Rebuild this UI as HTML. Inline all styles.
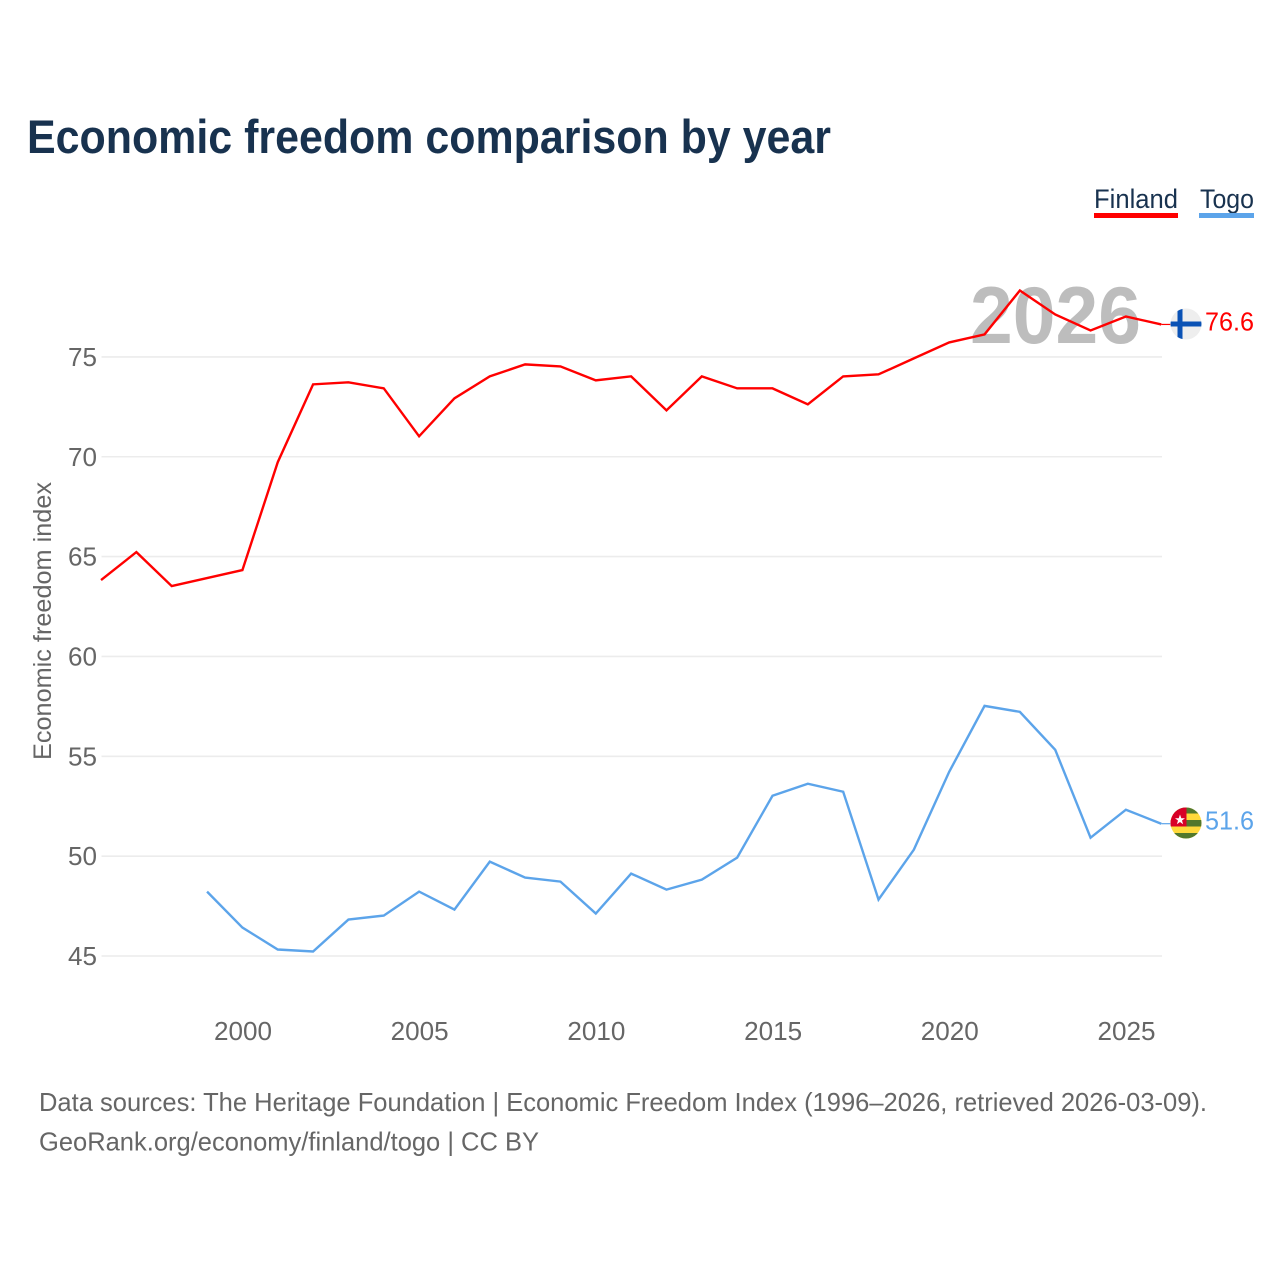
<!DOCTYPE html>
<html lang="en">
<head>
<meta charset="utf-8">
<title>Economic freedom comparison by year</title>
<style>
html,body{margin:0;padding:0;background:#fff;width:1280px;height:1280px;overflow:hidden}
svg{display:block}
text{font-family:"Liberation Sans",Arial,sans-serif}
</style>
</head>
<body>
<svg id="chart" xmlns="http://www.w3.org/2000/svg" width="1280" height="1280" viewBox="0 0 1280 1280">
  <defs>
    <clipPath id="flag-clip-fi"><circle cx="1186" cy="324" r="15.5"/></clipPath>
    <clipPath id="flag-clip-tg"><circle cx="1186" cy="823" r="15.5"/></clipPath>
  </defs>
  <rect width="1280" height="1280" fill="#fff"/>
  <text x="27" y="153" font-size="47" font-weight="700" fill="#18324f" textLength="804" lengthAdjust="spacingAndGlyphs">Economic freedom comparison by year</text>

  <g>
    <text x="1094" y="208" font-size="27" fill="#18324f" textLength="84" lengthAdjust="spacingAndGlyphs">Finland</text>
    <rect x="1094" y="213" width="84" height="5" fill="#ff0000"/>
  </g>
  <g>
    <text x="1200" y="208" font-size="27" fill="#18324f" textLength="54" lengthAdjust="spacingAndGlyphs">Togo</text>
    <rect x="1199" y="213" width="55" height="5" fill="#5ca4ea"/>
  </g>

  <text x="970" y="343" font-size="81" font-weight="700" fill="#bdbdbd" textLength="171" lengthAdjust="spacingAndGlyphs">2026</text>

  <g id="grid"></g>
  <g id="y-axis"></g>
  <g id="x-axis"></g>
  <text transform="translate(51,760) rotate(-90)" x="0" y="0" font-size="25" fill="#666" textLength="278" lengthAdjust="spacingAndGlyphs">Economic freedom index</text>

  <g id="series" transform="translate(-0.6,-0.5)"></g>

  <g clip-path="url(#flag-clip-fi)">
    <rect x="1170" y="308" width="32" height="32" fill="#eeeeee"/>
    <rect x="1177.500" y="308" width="5" height="32" fill="#0a52b5"/>
    <rect x="1170" y="321.500" width="32" height="5" fill="#0a52b5"/>
  </g>
  <g clip-path="url(#flag-clip-tg)">
    <rect x="1170" y="807" width="32" height="32" fill="#ffd93b"/>
    <rect x="1170" y="807" width="32" height="6.500" fill="#52782c"/>
    <rect x="1170" y="820" width="32" height="6.500" fill="#52782c"/>
    <rect x="1170" y="833" width="32" height="6.500" fill="#52782c"/>
    <rect x="1170" y="807" width="16.500" height="19.500" fill="#d80027"/>
    <polygon points="1180,814.500 1181.300,818.200 1185,818.200 1182,820.500 1183.100,824.200 1180,822 1176.900,824.200 1178,820.500 1175,818.200 1178.700,818.200" fill="#fff"/>
  </g>

  <text id="value-finland" x="1205" y="330.500" font-size="25.500" fill="#ff0000" textLength="49" lengthAdjust="spacingAndGlyphs"></text>
  <text id="value-togo" x="1205" y="829.500" font-size="25.500" fill="#5ca4ea" textLength="49" lengthAdjust="spacingAndGlyphs"></text>

  <text x="39" y="1111" font-size="26" fill="#666" textLength="1168" lengthAdjust="spacingAndGlyphs">Data sources: The Heritage Foundation | Economic Freedom Index (1996–2026, retrieved 2026-03-09).</text>
  <text x="39" y="1150.500" font-size="26" fill="#666" textLength="500" lengthAdjust="spacingAndGlyphs">GeoRank.org/economy/finland/togo | CC BY</text>
</svg>
<script>
const years = [1996,1997,1998,1999,2000,2001,2002,2003,2004,2005,2006,2007,2008,2009,2010,2011,2012,2013,2014,2015,2016,2017,2018,2019,2020,2021,2022,2023,2024,2025,2026];
const finlandValues = [63.8,65.2,63.5,63.9,64.3,69.7,73.6,73.7,73.4,71.0,72.9,74.0,74.6,74.5,73.8,74.0,72.3,74.0,73.4,73.4,72.6,74.0,74.1,74.9,75.7,76.1,78.3,77.1,76.3,77.0,76.6];
const togoValues = [null,null,null,48.2,46.4,45.3,45.2,46.8,47.0,48.2,47.3,49.7,48.9,48.7,47.1,49.1,48.3,48.8,49.9,53.0,53.6,53.2,47.8,50.3,54.2,57.5,57.2,55.3,50.9,52.3,51.6];
const yTicks = [45,50,55,60,65,70,75];
const xTicks = [2000,2005,2010,2015,2020,2025];

const NS = 'http://www.w3.org/2000/svg';
function xScale(year){ return 243 + (year - 2000) * 35.34; }
function yScale(v){ return 956 - (v - 45) * 19.97; }
function make(parent, tag, attrs){
  const el = document.createElementNS(NS, tag);
  for (const k in attrs) el.setAttribute(k, attrs[k]);
  parent.appendChild(el);
  return el;
}

const grid = document.getElementById('grid');
const yAxis = document.getElementById('y-axis');
yTicks.forEach(function(t){
  const line = make(grid, 'line', {x1:101.500, x2:1162, y1:yScale(t), y2:yScale(t), stroke:'#ececec', 'stroke-width':1.600});
  
  
  const label = make(yAxis, 'text', {x:97, y:yScale(t) + 9, 'text-anchor':'end', 'font-size':25.500, fill:'#666', textLength:29, lengthAdjust:'spacingAndGlyphs'});
  
  
  label.textContent = t;
});

const xAxis = document.getElementById('x-axis');
xTicks.forEach(function(t){
  const label = make(xAxis, 'text', {x:xScale(t), y:1040, 'text-anchor':'middle', 'font-size':25.500, fill:'#666', textLength:58, lengthAdjust:'spacingAndGlyphs'});
  
  
  label.textContent = t;
});

function drawSeries(values, color, name){
  const group = document.getElementById('series');
  let d = '', last = null;
  values.forEach(function(v, i){
    if (v === null) return;
    d += (d ? 'L' : 'M') + xScale(years[i]).toFixed(2) + ' ' + yScale(v).toFixed(2);
    last = v;
  });
  const path = make(group, 'path', {d:d, fill:'none', stroke:color, 'stroke-width':2.400, 'stroke-linejoin':'miter'});
  
  
  const x0 = xScale(years[years.length - 1]);
  const tick = make(group, 'line', {x1:x0, x2:x0 + 9, y1:yScale(last), y2:yScale(last), stroke:color, 'stroke-width':1.200});
  
  
  return last;
}
document.getElementById('value-finland').textContent = drawSeries(finlandValues, '#ff0000', 'line-finland').toFixed(1);
document.getElementById('value-togo').textContent = drawSeries(togoValues, '#5ca4ea', 'line-togo').toFixed(1);
</script>
</body>
</html>
